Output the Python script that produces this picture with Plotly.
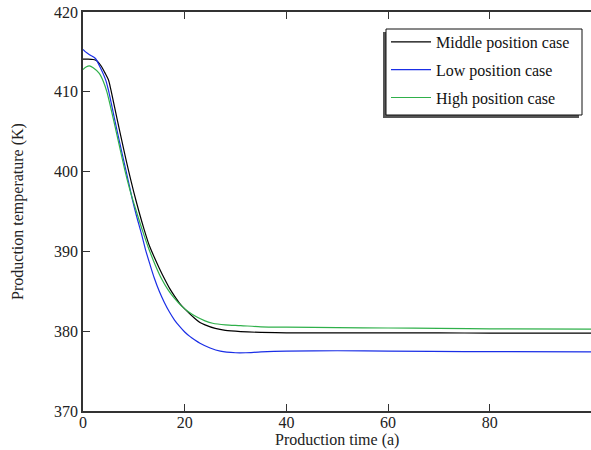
import plotly.graph_objects as go

# Middle position case
t_mid = [0, 1, 2, 2.7, 3.5, 4.3, 5.0, 5.5, 6.7, 7.9, 9, 10, 11, 12, 13, 14, 15, 16, 17, 18, 19, 20, 22, 23, 24, 26, 28, 31, 35, 40, 50, 60, 70, 80, 90, 100]
T_mid = [414.1, 414.1, 414.05, 413.9, 413.3, 412.4, 411.5, 410.2, 406.6, 403.1, 400.0, 397.4, 395.0, 392.8, 390.8, 389.3, 387.9, 386.6, 385.4, 384.4, 383.5, 382.8, 381.6, 381.1, 380.8, 380.35, 380.1, 379.95, 379.85, 379.8, 379.8, 379.8, 379.8, 379.75, 379.75, 379.75]

# Low position case
t_low = [0, 0.5, 1.4, 2.4, 3.2, 4.45, 5.0, 6.2, 7.4, 8.5, 9.75, 10.5, 11.5, 12.3, 13.2, 14, 15, 16, 17, 18, 19, 20, 21, 22, 23, 25, 27, 30, 32, 35, 40, 50, 60, 75, 100]
T_low = [415.3, 415.0, 414.6, 414.2, 413.3, 411.5, 410.2, 406.6, 403.1, 400.0, 396.4, 394.5, 392.2, 390.2, 388.3, 386.7, 385.0, 383.6, 382.4, 381.4, 380.6, 379.9, 379.35, 378.9, 378.5, 377.9, 377.5, 377.3, 377.3, 377.4, 377.5, 377.55, 377.5, 377.45, 377.4]

# High position case
t_high = [0, 0.6, 1.25, 2, 3.2, 4.0, 4.7, 6.0, 7.2, 8.3, 9.4, 10.5, 11.7, 12.9, 14.2, 15.5, 16.7, 18, 19.3, 20.8, 22.3, 24, 25.5, 28, 31, 35, 40, 50, 60, 70, 80, 100]
T_high = [412.8, 413.1, 413.25, 413.0, 412.3, 411.3, 410.0, 406.5, 403.1, 400.0, 397.3, 395.0, 392.6, 390.4, 388.3, 386.5, 385.2, 384.1, 383.2, 382.4, 381.8, 381.3, 381.0, 380.8, 380.7, 380.55, 380.5, 380.45, 380.4, 380.35, 380.3, 380.25]

x_ticks = [0, 20, 40, 60, 80]
y_ticks = [370, 380, 390, 400, 410, 420]

FONT = "Liberation Serif"
PL, PT, PB, PW, PH = 83, 12, 411, 508, 399


def px_x(p):
    return (p - PL) / PW


def px_y(p):
    return (PB - p) / PH


fig = go.Figure()
fig.add_trace(go.Scatter(x=t_mid, y=T_mid, mode="lines", name="Middle position case", legendgroup="a",
                         line=dict(color="#000000", width=1.2, shape="spline", smoothing=0.8)))
fig.add_trace(go.Scatter(x=t_low, y=T_low, mode="lines", name="Low position case", legendgroup="b",
                         line=dict(color="#1a2ee6", width=1.2, shape="spline", smoothing=0.8)))
fig.add_trace(go.Scatter(x=t_high, y=T_high, mode="lines", name="High position case", legendgroup="c",
                         line=dict(color="#2fb04a", width=1.2, shape="spline", smoothing=0.8)))

# legend shadow and box
fig.add_shape(type="rect", xref="paper", yref="paper",
              x0=px_x(383), x1=px_x(579), y0=px_y(118), y1=px_y(32),
              fillcolor="#555555", line=dict(width=0), layer="above")
fig.add_shape(type="rect", xref="paper", yref="paper",
              x0=px_x(386), x1=px_x(582), y0=px_y(115), y1=px_y(29),
              fillcolor="white", line=dict(color="#111", width=1), layer="above")

# x axis title
fig.add_annotation(text="Production time (a)", xref="paper", yref="paper",
                   x=0.5, y=px_y(440.5), xanchor="center", yanchor="middle",
                   showarrow=False, font=dict(family=FONT, size=16, color="#222"))

fig.update_layout(
    width=591, height=450,
    margin=dict(l=PL, r=0, t=PT, b=450 - PB),
    paper_bgcolor="white", plot_bgcolor="white",
    font=dict(family=FONT, size=16, color="#222"),
    showlegend=True,
    legend=dict(x=px_x(386), y=px_y(25), xanchor="left", yanchor="top",
                bgcolor="rgba(0,0,0,0)", borderwidth=0, tracegroupgap=4,
                font=dict(family=FONT, size=16, color="#111"), itemwidth=40),
    xaxis=dict(range=[0, 99.9], tickvals=x_ticks, ticks="inside", ticklen=7, tickwidth=1,
               tickcolor="#333", showline=True, linecolor="#333", linewidth=1.5, mirror="ticks",
               showgrid=False, zeroline=False, tickfont=dict(size=16), ticklabelstandoff=-4),
    yaxis=dict(range=[370, 420], tickvals=y_ticks, ticks="inside", ticklen=7, tickwidth=1,
               tickcolor="#333", showline=True, linecolor="#333", linewidth=1.5,
               showgrid=False, zeroline=False,
               title=dict(text="Production temperature (K)", standoff=26, font=dict(size=16)),
               tickfont=dict(size=16)),
)

fig.write_html("out.html")
